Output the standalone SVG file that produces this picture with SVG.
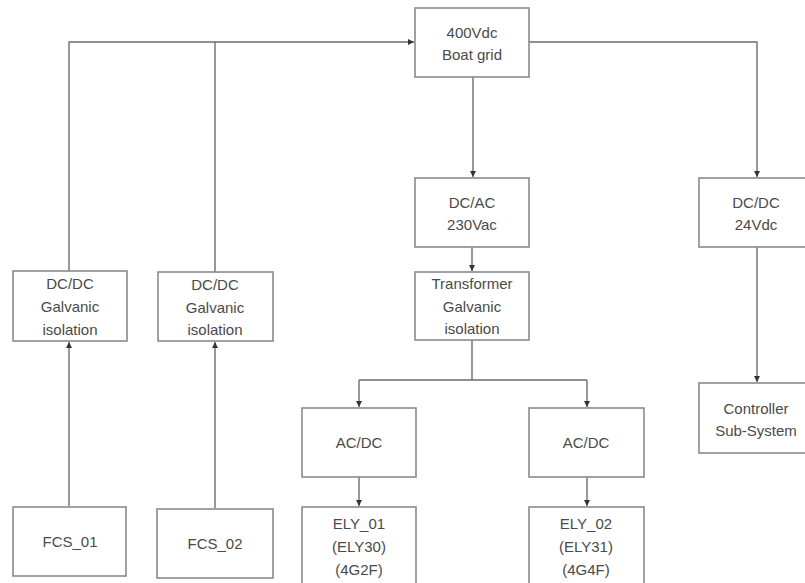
<svg xmlns="http://www.w3.org/2000/svg" width="805" height="583" viewBox="0 0 805 583">
<defs>
<style>
.box{fill:#ffffff;stroke:#8a8a8a;stroke-width:1.6}
.t{font-family:"Liberation Sans",Arial,sans-serif;font-size:15px;fill:#4a4a4a;text-anchor:middle}
.c{fill:none;stroke:#6e6e6e;stroke-width:1.4}
</style>
<marker id="a" viewBox="0 0 6 6" refX="6" refY="3" markerWidth="6" markerHeight="6" markerUnits="userSpaceOnUse" orient="auto">
<path d="M0,0 L6,3 L0,6 z" fill="#333"/>
</marker>
</defs>
<rect width="805" height="583" fill="#ffffff"/>
<g id="connectors">
<path class="c" d="M69,271 V42 H414" marker-end="url(#a)"/>
<path class="c" d="M215,272 V42"/>
<path class="c" d="M69,506 V342" marker-end="url(#a)"/>
<path class="c" d="M215,508 V342" marker-end="url(#a)"/>
<path class="c" d="M473,77 V177" marker-end="url(#a)"/>
<path class="c" d="M529,42 H757 V177" marker-end="url(#a)"/>
<path class="c" d="M757,247 V382" marker-end="url(#a)"/>
<path class="c" d="M472,247 V271" marker-end="url(#a)"/>
<path class="c" d="M472,340 V380 M359,380 H587"/>
<path class="c" d="M359,380 V407" marker-end="url(#a)"/>
<path class="c" d="M587,380 V407" marker-end="url(#a)"/>
<path class="c" d="M359,477 V506" marker-end="url(#a)"/>
<path class="c" d="M587,477 V506" marker-end="url(#a)"/>
</g>
<g id="boatgrid">
<rect class="box" x="415" y="8" width="114" height="69"/>
<text class="t" x="472" y="38">400Vdc</text>
<text class="t" x="472" y="60">Boat grid</text>
</g>
<g id="dcac">
<rect class="box" x="415" y="178" width="114" height="69"/>
<text class="t" x="472" y="208">DC/AC</text>
<text class="t" x="472" y="230">230Vac</text>
</g>
<g id="transformer">
<rect class="box" x="415" y="272" width="114" height="68"/>
<text class="t" x="472" y="289">Transformer</text>
<text class="t" x="472" y="312">Galvanic</text>
<text class="t" x="472" y="334">isolation</text>
</g>
<g id="dcdc24">
<rect class="box" x="699" y="178" width="110" height="69"/>
<text class="t" x="756" y="208">DC/DC</text>
<text class="t" x="756" y="230">24Vdc</text>
</g>
<g id="controller">
<rect class="box" x="699" y="383" width="110" height="70"/>
<text class="t" x="756" y="414">Controller</text>
<text class="t" x="756" y="436">Sub-System</text>
</g>
<g id="dcdc1">
<rect class="box" x="13" y="271" width="114" height="70"/>
<text class="t" x="70" y="289">DC/DC</text>
<text class="t" x="70" y="312">Galvanic</text>
<text class="t" x="70" y="335">isolation</text>
</g>
<g id="dcdc2">
<rect class="box" x="158" y="272" width="115" height="69"/>
<text class="t" x="215" y="290">DC/DC</text>
<text class="t" x="215" y="313">Galvanic</text>
<text class="t" x="215" y="335">isolation</text>
</g>
<g id="fcs01">
<rect class="box" x="13" y="507" width="113" height="69"/>
<text class="t" x="70" y="547">FCS_01</text>
</g>
<g id="fcs02">
<rect class="box" x="157" y="509" width="116" height="69"/>
<text class="t" x="215" y="549">FCS_02</text>
</g>
<g id="acdc1">
<rect class="box" x="302" y="408" width="114" height="69"/>
<text class="t" x="359" y="448">AC/DC</text>
</g>
<g id="acdc2">
<rect class="box" x="529" y="408" width="115" height="69"/>
<text class="t" x="586" y="448">AC/DC</text>
</g>
<g id="ely01">
<rect class="box" x="302" y="507" width="114" height="80"/>
<text class="t" x="359" y="529">ELY_01</text>
<text class="t" x="359" y="552">(ELY30)</text>
<text class="t" x="359" y="575">(4G2F)</text>
</g>
<g id="ely02">
<rect class="box" x="529" y="507" width="115" height="80"/>
<text class="t" x="586" y="529">ELY_02</text>
<text class="t" x="586" y="552">(ELY31)</text>
<text class="t" x="586" y="575">(4G4F)</text>
</g>
</svg>
